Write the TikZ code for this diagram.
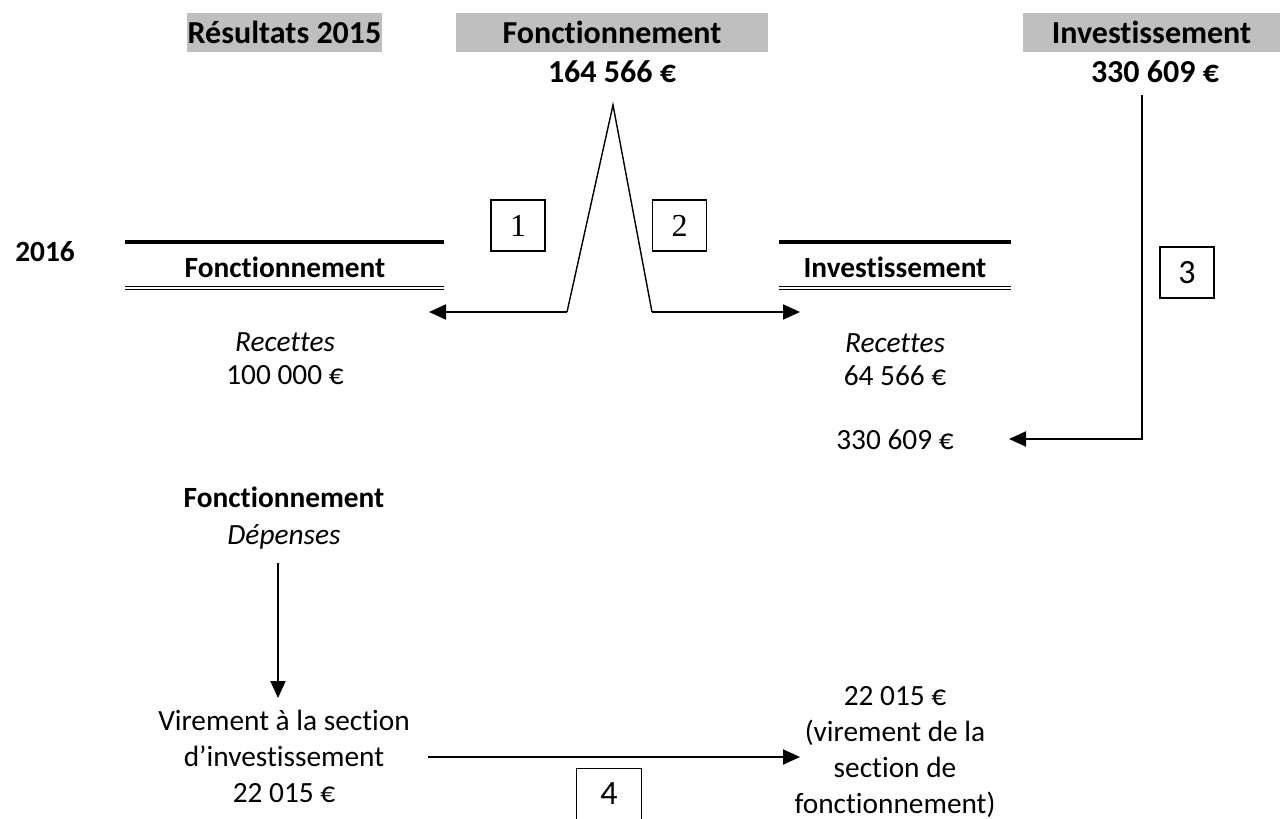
\documentclass[tikz,border=0pt]{standalone}
\usepackage{fontspec}
\setmainfont{Carlito}[Ligatures=NoCommon]
\newfontfamily\timesfont{Liberation Serif}
\usetikzlibrary{arrows.meta,positioning}
\definecolor{headgray}{RGB}{191,191,191}

\begin{document}
\begin{tikzpicture}[x=0.5pt, y=-0.5pt,
    head/.style={fill=headgray, inner sep=0pt, minimum height=19.5pt, font=\fontsize{16}{19}\selectfont\bfseries},
    amount/.style={font=\fontsize{16}{19}\selectfont\bfseries},
    txt/.style={align=center, font=\fontsize{14.67}{18}\selectfont},
    numbox/.style={draw, line width=0.65pt, minimum width=27pt, minimum height=25.5pt, inner sep=0pt},
    arr/.style={line width=1pt, -{Triangle[length=8.5pt,width=7.5pt]}}]
    \useasboundingbox (0,0) rectangle (1280,819);

    % headers 2015
    \node[head, minimum width=97.5pt] (res) at (284.5,32.5) {Résultats 2015};
    \node[head, minimum width=156pt] (fonc15) at (612,32.5) {Fonctionnement};
    \node[head, minimum width=128.5pt] (inv15) at (1151.5,32.5) {Investissement};
    \node[amount] (fonc15val) at (612,72) {164 566 €};
    \node[amount] (inv15val) at (1155,72) {330 609 €};

    % sections 2016
    \node[txt, font=\fontsize{14.67}{18}\selectfont\bfseries] (an) at (45,252) {2016};
    \draw[line width=2pt] (125,242) -- (444,242);
    \node[txt, font=\fontsize{14.67}{18}\selectfont\bfseries] (fonc16) at (285,267) {Fonctionnement};
    \draw[double, line width=0.65pt, double distance=1pt] (125,288) -- (444,288);
    \draw[line width=2pt] (779,242) -- (1011,242);
    \node[txt, font=\fontsize{14.67}{18}\selectfont\bfseries] (inv16) at (895,267) {Investissement};
    \draw[double, line width=0.65pt, double distance=1pt] (779,288) -- (1011,288);

    \node[txt, font=\fontsize{14.67}{16.5}\selectfont] (recF) at (285,359) {\textit{Recettes}\\100 000 €};
    \node[txt, font=\fontsize{14.67}{16.5}\selectfont] (recI) at (895,360) {\textit{Recettes}\\64 566 €};
    \node[txt] (recI2) at (895,440) {330 609 €};

    % affectation du resultat
    \coordinate (apex) at (613,105);
    \coordinate (baseL) at (567,312);
    \coordinate (baseR) at (652,312);
    \coordinate (tipL) at (429,312);
    \coordinate (tipR) at (800,312);
    \draw[line width=0.7pt] (baseL) -- (apex) -- (baseR);
    \draw[arr] (baseL) -- (tipL);
    \draw[arr] (baseR) -- (tipR);
    \node[numbox, font=\fontsize{16}{19}\timesfont] (n1) at (518,225.5) {1};
    \node[numbox, font=\fontsize{16}{19}\timesfont] (n2) at (679.5,225.5) {2};

    \coordinate (top3) at (1142,95);
    \coordinate (tip3) at (1009,439);
    \draw[arr] (top3) |- (tip3);
    \node[numbox, font=\fontsize{17}{20}\selectfont] (n3) at (1187,272.5) {3};

    % virement
    \node[txt, font=\fontsize{14.67}{18.5}\selectfont] (dep) at (284,518.5) {\textbf{Fonctionnement}\\\textit{Dépenses}};
    \coordinate (depS) at (278,563);
    \coordinate (virN) at (278,698);
    \draw[arr] (depS) -- (virN);
    \node[txt] (virF) at (284,756) {Virement à la section\\d’investissement\\22 015 €};
    \node[txt] (virI) at (895,752) {22 015 €\\(virement de la\\section de\\fonctionnement)};
    \coordinate (virL) at (428,757);
    \coordinate (virR) at (800,757);
    \draw[arr] (virL) -- (virR);
    \node[minimum width=32pt, minimum height=25pt, inner sep=0pt, font=\fontsize{17}{20}\selectfont] (n4) at (609,794) {4};
    \draw[line width=0.65pt] (n4.south west) -- (n4.north west) -- (n4.north east) -- (n4.south east);
\end{tikzpicture}
\end{document}
